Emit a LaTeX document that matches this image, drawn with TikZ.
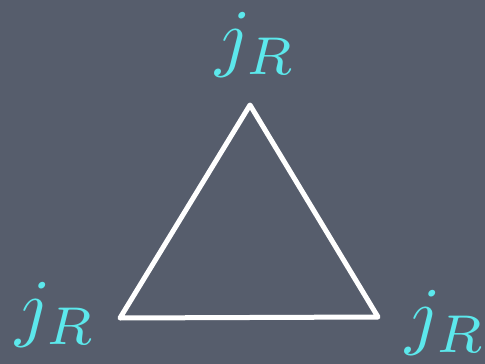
\documentclass[tikz,border=0pt]{standalone}
\usepackage{graphicx}
\definecolor{slate}{RGB}{86,93,108}
\definecolor{lab}{RGB}{92,232,236}
\newcommand{\bigjr}{\scalebox{7.6}{$j_R$}}
\tikzset{lbl/.style={text=lab, inner sep=0pt},
edge/.style={draw=white, line width=5pt, line join=round, line cap=round}}
\begin{document}
\begin{tikzpicture}[x=1pt,y=-1pt]
\fill[slate] (0,0) rectangle (485,364);
\useasboundingbox (0,0) rectangle (485,364);
\coordinate (a) at (250,105);
\coordinate (b) at (120,318);
\coordinate (c) at (378,317);
\draw[edge] (a) -- (b) -- (c) -- cycle;
\node[lbl] (la) at (256,45) {\bigjr};
\node[lbl] (lb) at (56,315) {\bigjr};
\node[lbl] (lc) at (446,323) {\bigjr};
\end{tikzpicture}
\end{document}
